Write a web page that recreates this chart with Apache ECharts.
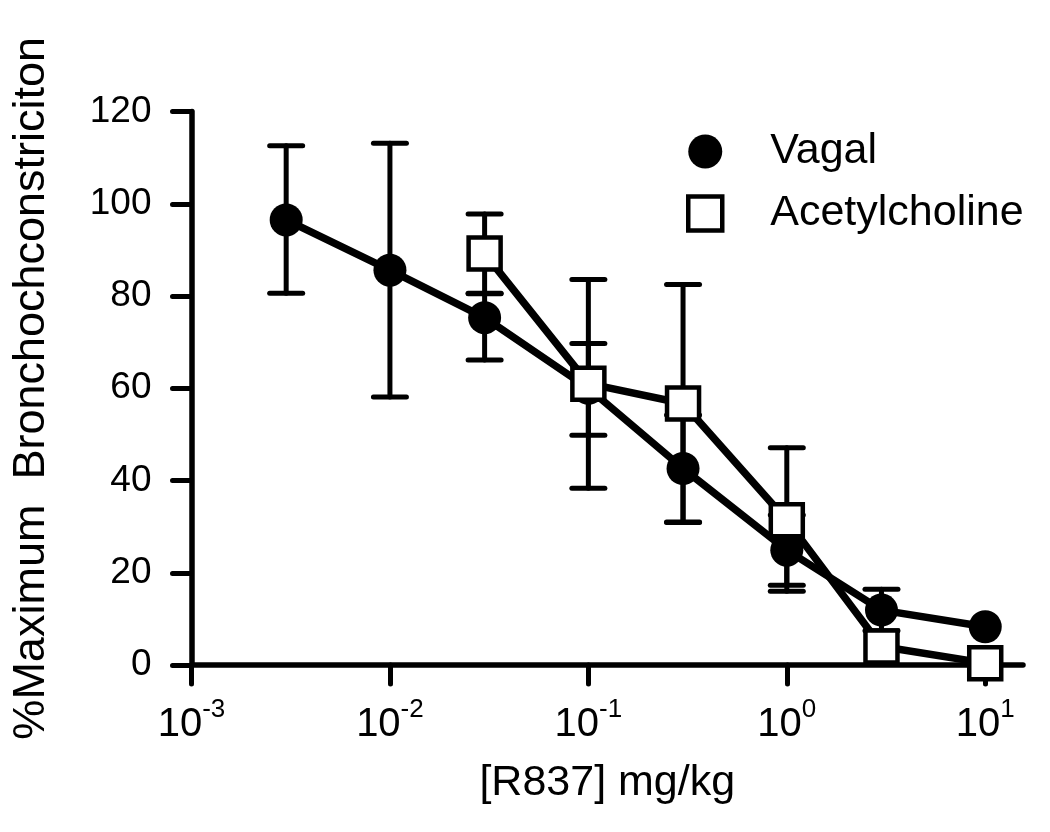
<!DOCTYPE html>
<html>
<head>
<meta charset="utf-8">
<script src="https://cdn.jsdelivr.net/npm/echarts@6/dist/echarts.min.js"></script>
<style>html,body{margin:0;padding:0;background:#fff}#c{width:1050px;height:832px}</style>
</head>
<body>
<div id="c"></div>
<script>
var xTicks = [0.001, 0.01, 0.1, 1, 10];
var yTicks = [0, 20, 40, 60, 80, 100, 120];
var vagalDose = [0.003, 0.01, 0.03, 0.1, 0.3, 1, 3, 10];
var vagalMean = [96.5, 85.6, 75.3, 60.0, 42.6, 24.9, 11.9, 8.3];
var vagalLow  = [80.6, 58.1, 66.1, 49.8, 31.0, 17.3, 7.4, 8.3];
var vagalHigh = [112.6, 113.1, 80.6, 69.7, 54.2, 32.5, 16.4, 8.3];
var achDose = [0.03, 0.1, 0.3, 1, 3, 10];
var achMean = [89.2, 61.0, 56.7, 31.4, 4.0, 0.4];
var achLow  = [80.5, 38.3, 30.9, 16.0, 4.0, 0.4];
var achHigh = [97.8, 83.6, 82.5, 47.1, 4.0, 0.4];

var FONT = 'Liberation Sans, Arial, Helvetica, sans-serif';

function pairs(xs, ys) { return xs.map(function (x, i) { return [x, ys[i]]; }); }
function errData(xs, lo, hi) { return xs.map(function (x, i) { return [x, lo[i], hi[i]]; }); }

function renderErr(params, api) {
  var x = api.value(0), lo = api.value(1), hi = api.value(2);
  if (hi - lo < 0.01) return null;
  var p1 = api.coord([x, lo]), p2 = api.coord([x, hi]);
  var hw = 16.5;
  var st = { stroke: '#000', lineWidth: 5, lineCap: 'round' };
  return {
    type: 'group',
    children: [
      { type: 'line', shape: { x1: p1[0], y1: p1[1], x2: p2[0], y2: p2[1] }, style: st },
      { type: 'line', shape: { x1: p1[0] - hw, y1: p1[1], x2: p1[0] + hw, y2: p1[1] }, style: st },
      { type: 'line', shape: { x1: p2[0] - hw, y1: p2[1], x2: p2[0] + hw, y2: p2[1] }, style: st }
    ]
  };
}

var chart = echarts.init(document.getElementById('c'), null, { renderer: 'canvas' });
chart.setOption({
  backgroundColor: '#fff',
  animation: false,
  grid: { left: 191.5, right: 27, top: 111.5, bottom: 167, containLabel: false },
  legend: {
    orient: 'vertical', left: 686, top: 130, padding: 0, itemGap: 19,
    itemWidth: 34, itemHeight: 34,
    textStyle: { fontFamily: FONT, fontSize: 43, color: '#000', padding: [0, 0, 0, 43] },
    data: [
      { name: 'Vagal', icon: 'circle', itemStyle: { color: '#000', borderWidth: 0 } },
      { name: 'Acetylcholine', icon: 'rect', itemStyle: { color: '#fff', borderColor: '#000', borderWidth: 4.5 } }
    ]
  },
  xAxis: {
    type: 'log', logBase: 10, min: 0.001, max: 15.5,
    name: '[R837] mg/kg', nameLocation: 'middle', nameGap: 97,
    nameTextStyle: { fontFamily: FONT, fontSize: 43, color: '#000' },
    axisLine: { lineStyle: { color: '#000', width: 5.5, cap: 'round' } },
    axisTick: { show: true, length: 19, inside: false, customValues: xTicks, lineStyle: { color: '#000', width: 5, cap: 'round' } },
    splitLine: { show: false },
    minorTick: { show: false },
    axisLabel: {
      customValues: xTicks, margin: 32, color: '#000',
      formatter: function (v) { return '{b|10}{s|' + Math.round(Math.log10(v)) + '}'; },
      rich: {
        b: { fontFamily: FONT, fontSize: 40, color: '#000' },
        s: { fontFamily: FONT, fontSize: 26, color: '#000', padding: [0, 0, 30, 0] }
      }
    }
  },
  yAxis: {
    type: 'value', min: 0, max: 120, interval: 20,
    name: '%Maximum  Bronchochconstriciton', nameLocation: 'middle', nameGap: 137, nameRotate: 90,
    nameTextStyle: { fontFamily: FONT, fontSize: 45, color: '#000' },
    axisLine: { show: true, lineStyle: { color: '#000', width: 5.5, cap: 'round' } },
    axisTick: { show: true, length: 19, lineStyle: { color: '#000', width: 5, cap: 'round' } },
    splitLine: { show: false },
    axisLabel: { margin: 40, fontFamily: FONT, fontSize: 37, color: '#000' }
  },
  series: [
    { name: 'vErr', type: 'custom', renderItem: renderErr, data: errData(vagalDose, vagalLow, vagalHigh), clip: false, silent: true, z: 1 },
    { name: 'aErr', type: 'custom', renderItem: renderErr, data: errData(achDose, achLow, achHigh), clip: false, silent: true, z: 1 },
    {
      name: 'Vagal', type: 'line', data: pairs(vagalDose, vagalMean), clip: false, z: 3,
      symbol: 'circle', symbolSize: 33,
      lineStyle: { color: '#000', width: 7.5 },
      itemStyle: { color: '#000', borderWidth: 0 }
    },
    {
      name: 'Acetylcholine', type: 'line', data: pairs(achDose, achMean), clip: false, z: 4,
      symbol: 'rect', symbolSize: 32,
      lineStyle: { color: '#000', width: 7.5 },
      itemStyle: { color: '#fff', borderColor: '#000', borderWidth: 4.5 }
    }
  ]
});
</script>
</body>
</html>
